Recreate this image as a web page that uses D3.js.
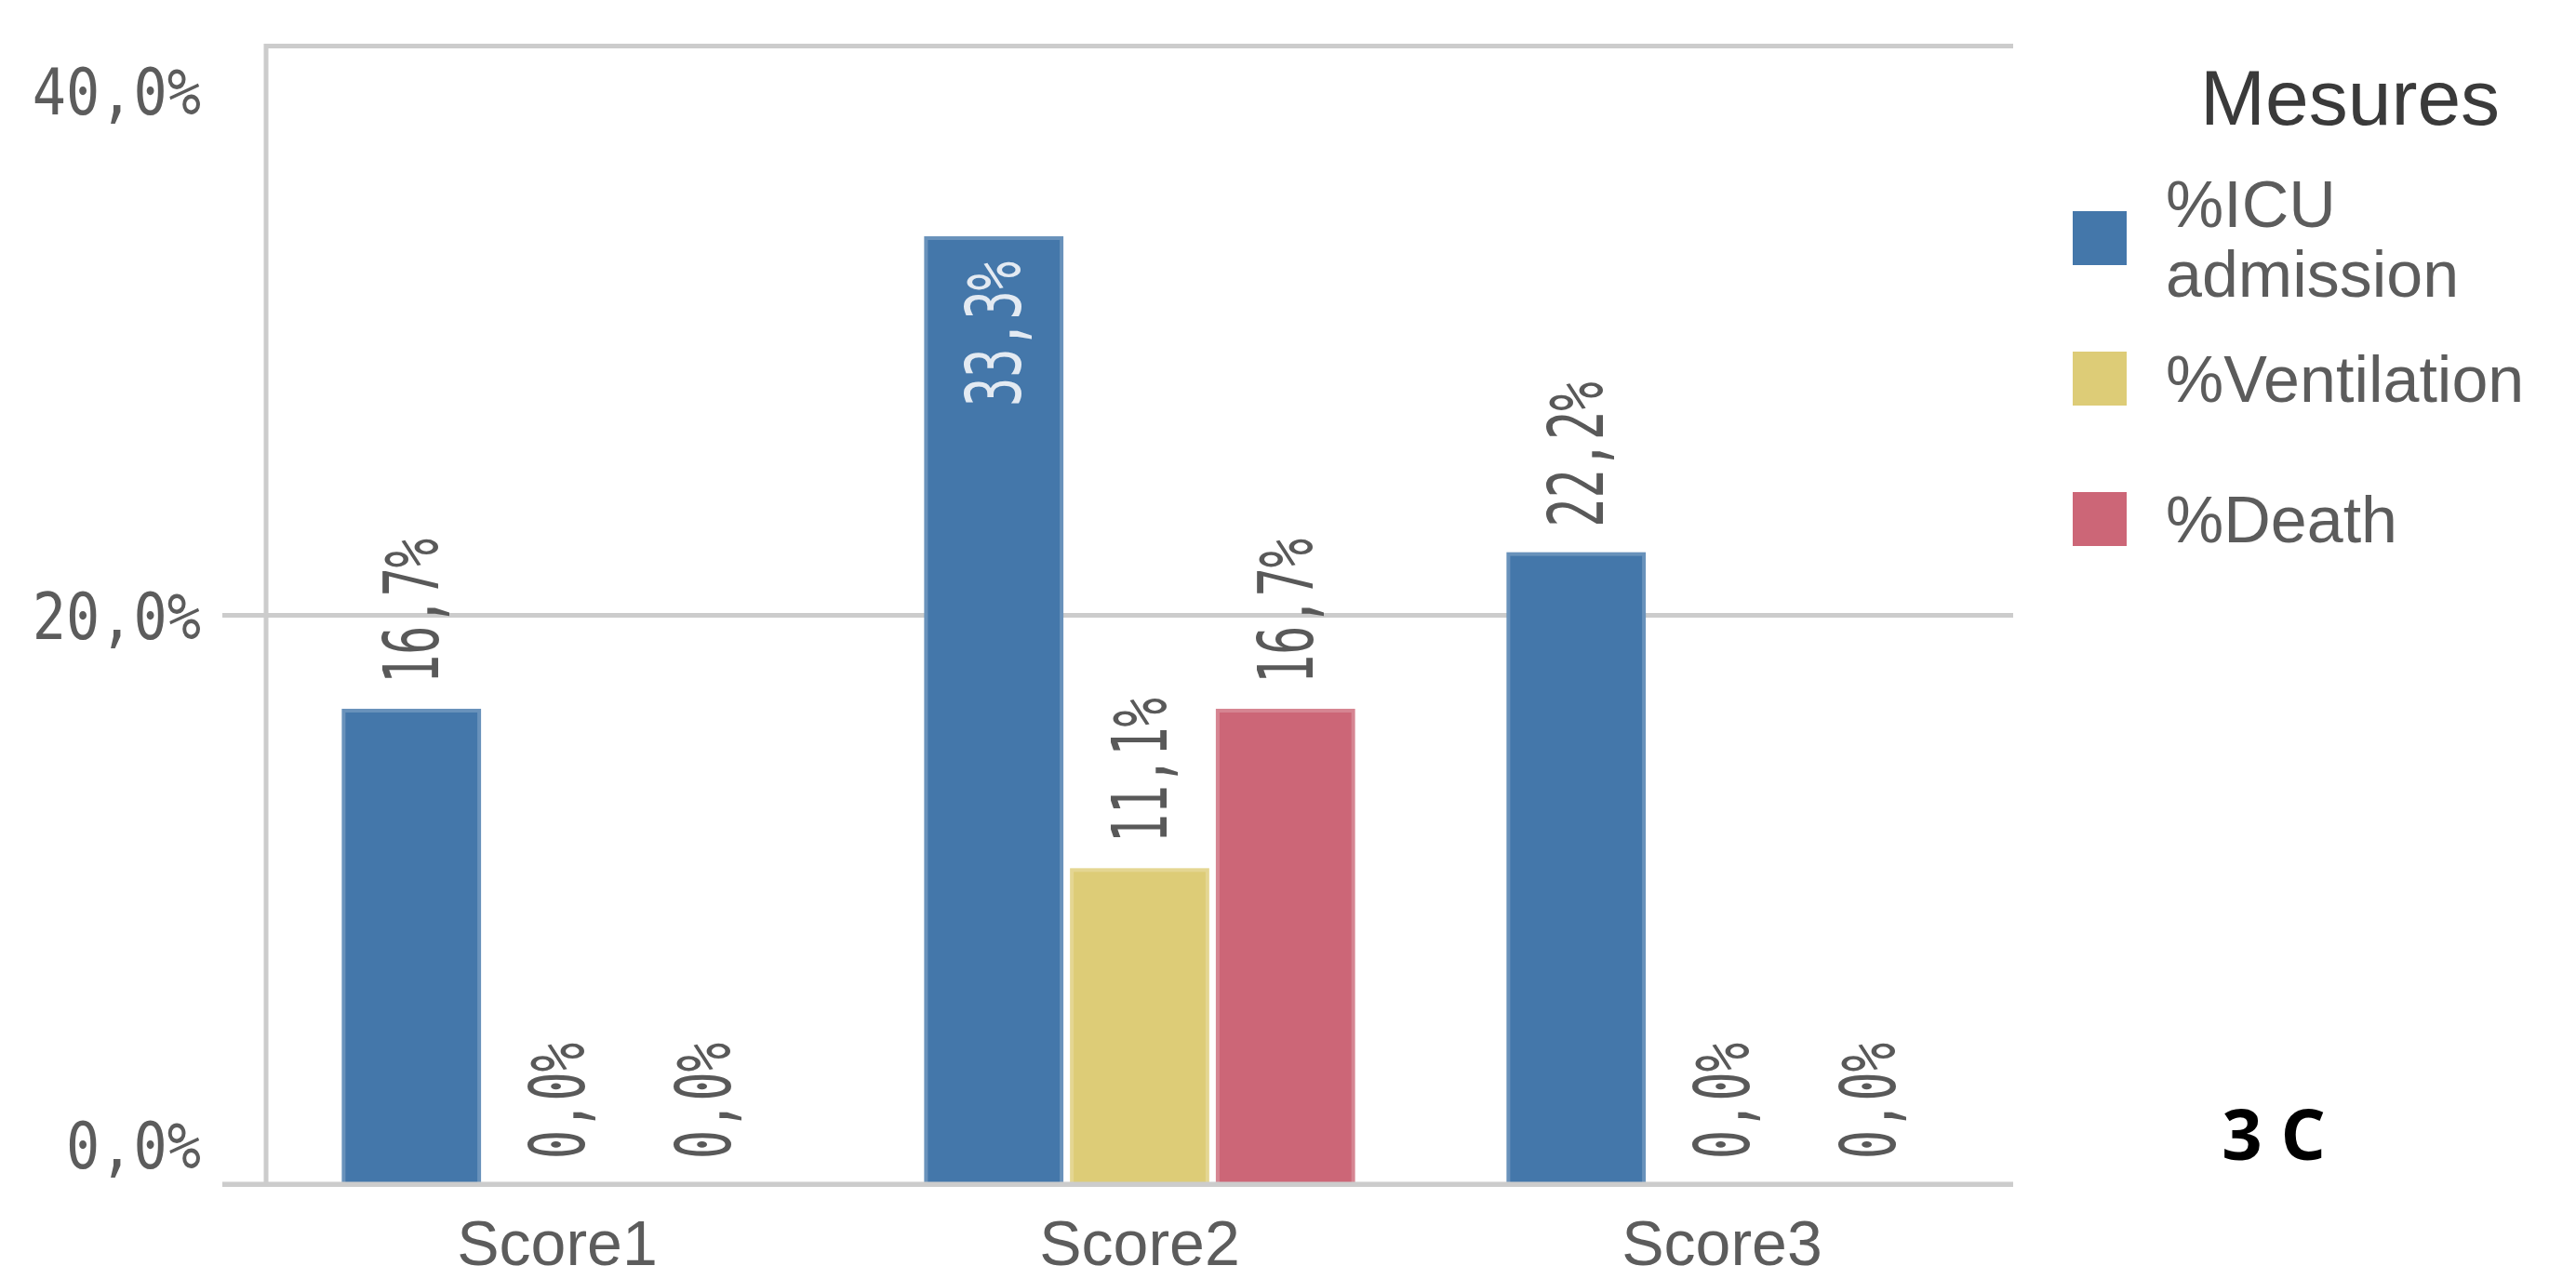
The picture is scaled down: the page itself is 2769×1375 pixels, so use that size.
<!DOCTYPE html>
<html>
<head>
<meta charset="utf-8">
<script src="https://cdn.jsdelivr.net/npm/d3@7"></script>
<style>
  body { margin: 0; background: #fff; }
  svg { display: block; }
</style>
</head>
<body>
<div id="chart"></div>
<script>
// data
var categories = ['Score1', 'Score2', 'Score3'];
var series = ['%ICU admission', '%Ventilation', '%Death'];
var icu = [16.7, 33.3, 22.2];
var ventilation = [0.0, 11.1, 0.0];
var death = [0.0, 16.7, 0.0];
var colors = ['#4477aa', '#ddcc77', '#cc6677'];
var yTicks = [0, 20, 40];
var legendTitle = 'Mesures';
var panelTag = '3 C';

var values = [icu, ventilation, death];

//Basic setting
var w = 2769, h = 1375;
var plot = {left: 286, right: 2164, top: 49, bottom: 1273};

var svg = d3.select('#chart').append('svg')
    .attr('width', w)
    .attr('height', h);

svg.append('rect').attr('width', w).attr('height', h).attr('fill', '#fff');

var fr = d3.formatLocale({decimal: ',', thousands: ' ', grouping: [3], currency: ['', '€']});
var fmt = function(d) { return fr.format('.1f')(d) + '%'; };

// scales
var x0 = d3.scaleBand()
    .domain(categories)
    .range([plot.left, plot.right])
    .paddingInner(0.26)
    .paddingOuter(0.13);
var x1 = d3.scaleBand()
    .domain(series)
    .range([0, x0.bandwidth()])
    .paddingInner(0.045);
var y = d3.scaleLinear()
    .domain([0, 40])
    .range([plot.bottom, plot.top]);

var monoFont = '"DejaVu Sans Mono", "Liberation Mono", monospace';
var sansFont = '"Liberation Sans", Arial, sans-serif';

// y axis with gridlines
var yAxis = svg.append('g')
    .attr('transform', 'translate(' + plot.left + ',0)')
    .call(d3.axisLeft(y).tickValues(yTicks).tickSize(-(plot.right - plot.left)).tickFormat(fmt));
yAxis.select('.domain').remove();
yAxis.selectAll('.tick line')
    .attr('stroke', '#cccccc')
    .attr('stroke-width', 5)
    .attr('x1', function(d) { return d === 40 ? 0 : -47; });
yAxis.selectAll('.tick text')
    .attr('x', 0)
    .attr('dy', null)
    .attr('fill', '#5c5c5c')
    .attr('font-family', monoFont)
    .attr('font-size', 70)
    .attr('text-anchor', 'end')
    .attr('transform', function(d) {
        var off = d === 0 ? -18 : (d === 40 ? 73 : 25);
        return 'translate(-70,' + off + ') scale(0.86,1)';
    });

// left axis line
svg.append('line')
    .attr('x1', plot.left).attr('x2', plot.left)
    .attr('y1', y(40) - 2).attr('y2', plot.bottom)
    .attr('stroke', '#cccccc')
    .attr('stroke-width', 5);

// bars
var groups = svg.selectAll('g.group')
    .data(categories).enter()
    .append('g')
    .attr('class', 'group')
    .attr('transform', function(d) { return 'translate(' + x0(d) + ',0)'; });

var cells = groups.selectAll('g.cell')
    .data(function(d, i) {
        return series.map(function(s, j) { return {cat: d, key: s, value: values[j][i], c: colors[j]}; });
    }).enter()
    .append('g').attr('class', 'cell');

cells.append('rect')
    .attr('x', function(d) { return x1(d.key) + 2; })
    .attr('y', function(d) { return y(d.value) + 2; })
    .attr('width', x1.bandwidth() - 4)
    .attr('height', function(d) { return Math.max(0, y(0) - y(d.value) - 2); })
    .attr('fill', function(d) { return d.c; })
    .attr('stroke', function(d) { return d.value > 0 ? d3.interpolateRgb(d.c, '#ffffff')(0.2) : 'none'; })
    .attr('stroke-width', 4);

// value labels (rotated)
var labelScale = 0.64;
cells.append('text')
    .attr('font-family', monoFont)
    .attr('font-size', 81)
    .text(function(d) { return fmt(d.value); })
    .each(function(d) {
        var t = d3.select(this);
        var len = this.getComputedTextLength() * labelScale;
        var cx = x1(d.key) + x1.bandwidth() / 2 + 29;
        var top = y(d.value);
        var inside = top - plot.top < len + 50;
        if (inside) {
            t.attr('text-anchor', 'end')
             .attr('fill', '#e3eaf2')
             .attr('transform', 'translate(' + cx + ',' + (top + 27) + ') rotate(-90) scale(' + labelScale + ',1)');
        } else {
            t.attr('text-anchor', 'start')
             .attr('fill', '#595959')
             .attr('transform', 'translate(' + cx + ',' + (top - 27) + ') rotate(-90) scale(' + labelScale + ',1)');
        }
    });

// x axis
var xAxis = svg.append('g')
    .attr('transform', 'translate(0,' + plot.bottom + ')')
    .call(d3.axisBottom(x0).tickSize(0));
xAxis.select('.domain').remove();
xAxis.selectAll('.tick text')
    .attr('y', 87)
    .attr('dy', null)
    .attr('fill', '#5c5c5c')
    .attr('font-family', sansFont)
    .attr('font-size', 68);

svg.append('line')
    .attr('x1', plot.left - 47).attr('x2', plot.right)
    .attr('y1', plot.bottom).attr('y2', plot.bottom)
    .attr('stroke', '#cccccc')
    .attr('stroke-width', 5);

// legend
var legend = svg.append('g').attr('transform', 'translate(2228,0)');
legend.append('text')
    .attr('x', 137)
    .attr('y', 134)
    .attr('font-family', sansFont)
    .attr('font-size', 84)
    .attr('fill', '#3a3a3a')
    .text(legendTitle);

var items = legend.selectAll('g.item')
    .data(series).enter()
    .append('g')
    .attr('class', 'item')
    .attr('transform', function(d, i) { return 'translate(0,' + (227 + i * 151) + ')'; });

items.append('rect')
    .attr('width', 58)
    .attr('height', 58)
    .attr('fill', function(d, i) { return colors[i]; });

items.append('text')
    .attr('x', 100)
    .attr('width', 440)
    .attr('font-family', sansFont)
    .attr('font-size', 70)
    .attr('fill', '#5c5c5c')
    .text(function(d) { return d; })
    .call(wrap);

function wrap(text) {
    text.each(function() {
        var text = d3.select(this);
        var words = text.text().split(/\s+/).reverse();
        var lineHeight = 75;
        var width = parseFloat(text.attr('width'));
        var x = text.attr('x');
        var tspan = text.text(null).append('tspan').attr('x', x);
        var lines = [tspan];
        var line = [];
        var word = words.pop();
        while (word) {
            line.push(word);
            tspan.text(line.join(' '));
            if (tspan.node().getComputedTextLength() > width && line.length > 1) {
                line.pop();
                tspan.text(line.join(' '));
                line = [word];
                tspan = text.append('tspan').attr('x', x).text(word);
                lines.push(tspan);
            }
            word = words.pop();
        }
        // centre the block on the swatch
        var first = 29 - (lines.length - 1) * lineHeight / 2 + 25;
        lines.forEach(function(t, k) { t.attr('y', first + k * lineHeight); });
    });
}

// panel tag
svg.append('text')
    .attr('x', 2444)
    .attr('y', 1247)
    .attr('text-anchor', 'middle')
    .attr('font-family', '"Open Sans", sans-serif')
    .attr('font-weight', 'bold')
    .attr('font-size', 76)
    .attr('fill', '#000')
    .text(panelTag);
</script>
</body>
</html>
